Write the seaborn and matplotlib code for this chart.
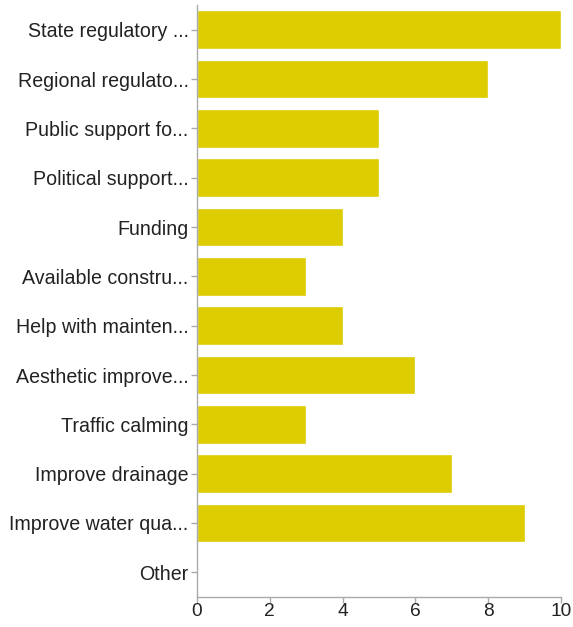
import matplotlib
matplotlib.use("Agg")
import matplotlib.pyplot as plt
import seaborn as sns
import pandas as pd

categories = ["State regulatory ...", "Regional regulato...", "Public support fo...",
              "Political support...", "Funding", "Available constru...",
              "Help with mainten...", "Aesthetic improve...", "Traffic calming",
              "Improve drainage", "Improve water qua...", "Other"]
values = [10, 8, 5, 5, 4, 3, 4, 6, 3, 7, 9, 0]
x_ticks = [0, 2, 4, 6, 8, 10]

sns.set_theme(style="white")
plt.rcParams['font.family'] = ['Liberation Sans', 'DejaVu Sans']

df = pd.DataFrame({"cat": categories, "val": values})

fig = plt.figure(figsize=(5.73, 6.27), dpi=100)
ax = fig.add_axes([197/573, 1-597/627, (561-197)/573, (597-5)/627])
sns.barplot(data=df, x="val", y="cat", orient="h", color="#DDCC00",
            saturation=1, width=0.78, ax=ax)
ax.set_xlim(0, 10)
ax.set_ylim(11.5, -0.5)
ax.set_xticks(x_ticks)
ax.set_xlabel("")
ax.set_ylabel("")
for s in ["top", "right"]:
    ax.spines[s].set_visible(False)
for s in ["left", "bottom"]:
    ax.spines[s].set_color("#AAAAAA")
    ax.spines[s].set_linewidth(1)
ax.tick_params(axis="both", which="both", length=4, width=1, color="#AAAAAA",
               labelcolor="#222222", bottom=True, left=True)
ax.tick_params(axis="y", labelsize=14.1, pad=2)
ax.tick_params(axis="x", labelsize=13.8, pad=0.5)
for t in ax.get_yticklabels():
    t.set_va("center_baseline")
fig.savefig("out.png", dpi=100)
